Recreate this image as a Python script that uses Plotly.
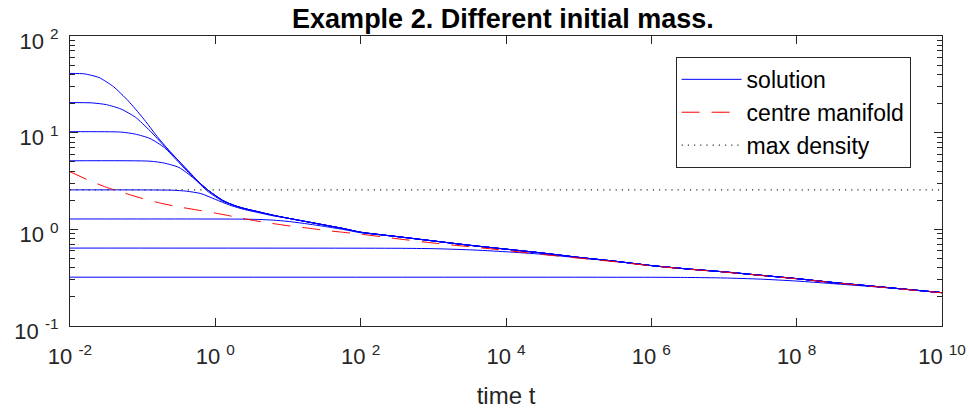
import numpy as np
import plotly.graph_objects as go

# ---- data (log10 of time, log10 of density) ----
# attracting curve that all solutions join (top solution, plateau 40.96)
env_lt = [-2.0, -1.8, -1.6, -1.4, -1.2, -1.0, -0.8, -0.6, -0.4, -0.2, -0.1, 0.0, 0.1, 0.2, 0.3,
          0.4, 0.6, 0.8, 1.0, 1.25, 1.5, 1.75, 2.0, 2.5, 3.0, 3.5, 4.0, 4.5, 5.0, 5.5, 6.0, 6.5,
          7.0, 7.5, 8.0, 8.5, 9.0, 9.5, 10.0]
env_ly = [1.613, 1.608, 1.57, 1.475, 1.33, 1.155, 0.96, 0.785, 0.625, 0.47, 0.405, 0.35, 0.30,
          0.265, 0.237, 0.215, 0.18, 0.145, 0.115, 0.08, 0.045, 0.01, -0.03, -0.075, -0.12,
          -0.165, -0.205, -0.245, -0.29, -0.33, -0.375, -0.41, -0.44, -0.475, -0.51, -0.55,
          -0.585, -0.62, -0.655]

# lower-mass solutions until they join the attracting curve
s2_lt = [-2.0, -1.7, -1.5, -1.3, -1.1, -0.9, -0.7]
s2_ly = [1.311, 1.308, 1.29, 1.245, 1.16, 1.02, 0.86]
s3_lt = [-2.0, -1.3, -1.1, -0.9, -0.7, -0.5, -0.3]
s3_ly = [1.010, 1.006, 0.985, 0.94, 0.845, 0.69, 0.535]
s4_lt = [-2.0, -0.9, -0.7, -0.5, -0.3, -0.1, 0.1]
s4_ly = [0.709, 0.705, 0.685, 0.64, 0.53, 0.39, 0.292]
s5_lt = [-2.0, -0.6, -0.4, -0.2, 0.0, 0.2, 0.4, 0.6, 0.8]
s5_ly = [0.408, 0.405, 0.395, 0.37, 0.31, 0.25, 0.205, 0.172, 0.139]
s6_lt = [-2.0, 0.3, 0.6, 0.8, 1.0, 1.25, 1.5, 1.75, 2.0]
s6_ly = [0.107, 0.106, 0.102, 0.095, 0.082, 0.058, 0.03, 0.0, -0.035]
s7_lt = [-2.0, 2.5, 3.0, 3.5, 4.0, 4.5, 5.0]
s7_ly = [-0.194, -0.196, -0.2, -0.212, -0.232, -0.258, -0.295]
s8_lt = [-2.0, 6.0, 6.5, 7.0, 7.5, 8.0, 8.5, 9.0]
s8_ly = [-0.495, -0.496, -0.498, -0.503, -0.515, -0.535, -0.562, -0.59]

# centre manifold
cm_lt = [-2.0, -1.75, -1.5, -1.25, -1.0, -0.75, -0.5, -0.25, 0.0, 0.25, 0.5, 0.75, 1.0, 1.25, 1.5,
         1.75, 2.0, 2.5, 3.0, 3.5, 4.0, 4.5, 5.0, 5.5, 6.0, 6.5, 7.0, 7.5, 8.0, 8.5, 9.0, 9.5, 10.0]
cm_ly = [0.596, 0.51, 0.435, 0.375, 0.318, 0.27, 0.232, 0.2, 0.168, 0.132, 0.095, 0.065, 0.037,
         0.015, -0.01, -0.03, -0.05, -0.097, -0.142, -0.18, -0.218, -0.26, -0.298, -0.335,
         -0.378, -0.412, -0.442, -0.477, -0.512, -0.552, -0.587, -0.622, -0.657]

max_density = 2.56
t_range = [1e-2, 1e10]

x_tick_exp = [-2, 0, 2, 4, 6, 8, 10]
y_tick_exp = [-1, 0, 1, 2]

# ---- build figure ----
fig = go.Figure()

curves = [(env_lt, env_ly), (s2_lt, s2_ly), (s3_lt, s3_ly), (s4_lt, s4_ly), (s5_lt, s5_ly),
          (s6_lt, s6_ly), (s7_lt, s7_ly), (s8_lt, s8_ly)]
for i, (lt, ly) in enumerate(curves):
    lt_all = list(lt) + [a for a in env_lt if a > lt[-1] + 1e-9]
    ly_all = list(ly) + [b for a, b in zip(env_lt, env_ly) if a > lt[-1] + 1e-9]
    fig.add_trace(go.Scatter(
        x=10 ** np.array(lt_all), y=10 ** np.array(ly_all), mode="lines",
        line=dict(color="#0000FF", width=1, shape="spline", smoothing=0.6),
        name="solution", showlegend=(i == 0), legendgroup="a"))

fig.add_trace(go.Scatter(
    x=10 ** np.array(cm_lt), y=10 ** np.array(cm_ly), mode="lines",
    line=dict(color="#FF0000", width=1, dash="18px,12px", shape="spline", smoothing=0.6),
    name="centre manifold", legendgroup="b"))

fig.add_trace(go.Scatter(
    x=t_range, y=[max_density, max_density], mode="lines",
    line=dict(color="#333333", width=1.2, dash="1.2px,5px"),
    name="max density", legendgroup="c"))

font = "Liberation Sans, Arial, Helvetica, sans-serif"
ax_col = "#262626"

y_minor = [m * 10.0 ** e for e in range(-1, 2) for m in range(2, 10)]

fig.update_layout(
    width=969, height=409,
    margin=dict(l=70, r=27, t=36, b=83, autoexpand=False),
    paper_bgcolor="white", plot_bgcolor="white",
    font=dict(family=font, size=22, color="#000000"),
    title=dict(text="<b>Example 2. Different initial mass.</b>", x=0.519, xanchor="center",
               y=0.955, yanchor="middle", font=dict(size=27, family=font, color="#000000")),
    legend=dict(x=0.964, xanchor="right", y=0.928, yanchor="top",
                bordercolor="#262626", borderwidth=1, bgcolor="white",
                font=dict(size=23, family=font), itemwidth=60,
                traceorder="grouped", tracegroupgap=0),
    xaxis=dict(type="log", range=[-2, 10], showgrid=False, zeroline=False, automargin=False,
               showline=True, linecolor=ax_col, linewidth=1, mirror="allticks",
               ticks="inside", ticklen=8, tickcolor=ax_col, ticklabelstandoff=11,
               tickvals=[10.0 ** e for e in x_tick_exp],
               ticktext=["10&nbsp;<sup>%d</sup>" % e for e in x_tick_exp],
               tickfont=dict(size=22, family=font, color="#262626"),
               title=dict(text="time t", font=dict(size=24, family=font, color="#262626"),
                          standoff=18)),
    yaxis=dict(type="log", range=[-1, 2], showgrid=False, zeroline=False, automargin=False,
               showline=True, linecolor=ax_col, linewidth=1, mirror="allticks",
               ticks="inside", ticklen=8, tickcolor=ax_col, ticklabelstandoff=6,
               ticklabelshift=5,
               tickvals=[10.0 ** e for e in y_tick_exp],
               ticktext=["10&nbsp;<sup>%d</sup>" % e for e in y_tick_exp],
               tickfont=dict(size=22, family=font, color="#262626"),
               minor=dict(ticks="inside", ticklen=5, tickcolor=ax_col, tickmode="array",
                          tickvals=y_minor, showgrid=False)),
)

fig.write_html("out.html", config={"displayModeBar": False},
               post_script="document.body.style.margin='0px';")
